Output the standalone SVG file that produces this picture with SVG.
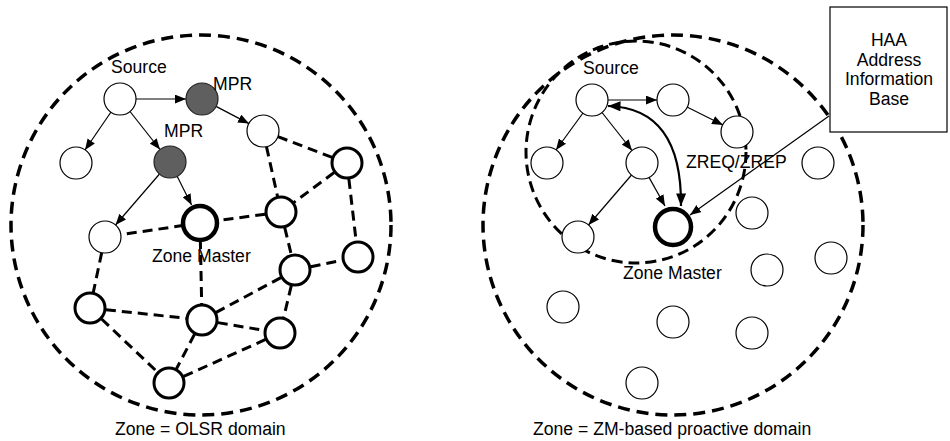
<svg xmlns="http://www.w3.org/2000/svg" width="950" height="441" viewBox="0 0 950 441">
  <style>
    .zone { fill: none; stroke: #000; stroke-width: 3.5; stroke-dasharray: 12 7; }
    .subzone { fill: none; stroke: #000; stroke-width: 3; stroke-dasharray: 11 6; }
    .link { stroke: #000; stroke-width: 3; stroke-dasharray: 10 6; fill: none; }
    .arrow { stroke: #000; stroke-width: 1.2; fill: none; marker-end: url(#head); }
    .node { fill: #fff; stroke: #000; stroke-width: 1.2; }
    .node.bold { stroke-width: 3; }
    .node.mpr { fill: #5f5f5f; stroke: #222; }
    .node.master { stroke-width: 4.5; }
    .label { font-family: "Liberation Sans", Arial, sans-serif; font-size: 17.6px; fill: #000; }
    .box { fill: #fff; stroke: #000; stroke-width: 1.2; }
  </style>
  <defs>
    <marker id="head" viewBox="0 0 10 8" refX="10" refY="4" markerWidth="11" markerHeight="9" markerUnits="userSpaceOnUse" orient="auto-start-reverse">
      <path d="M0 0 L10 4 L0 8 Z" fill="#000"/>
    </marker>
    <marker id="headBig" viewBox="0 0 10 8" refX="10" refY="4" markerWidth="13" markerHeight="10" markerUnits="userSpaceOnUse" orient="auto-start-reverse">
      <path d="M0 0 L10 4 L0 8 Z" fill="#000"/>
    </marker>
  </defs>

  <!-- zone boundaries -->
  <circle class="zone" cx="201" cy="225" r="190"/>
  <circle class="zone" cx="673" cy="225" r="190"/>
  <ellipse class="subzone" cx="636" cy="152" rx="110" ry="111"/>

  <!-- connectors -->
  <g id="connectors">
    <!-- OLSR links (left) -->
    <line class="link" x1="263" y1="131" x2="347" y2="163"/>
    <line class="link" x1="263" y1="131" x2="281" y2="212"/>
    <line class="link" x1="347" y1="163" x2="281" y2="212"/>
    <line class="link" x1="347" y1="163" x2="358" y2="257"/>
    <line class="link" x1="281" y1="212" x2="200" y2="223"/>
    <line class="link" x1="281" y1="212" x2="295" y2="270"/>
    <line class="link" x1="295" y1="270" x2="358" y2="257"/>
    <line class="link" x1="295" y1="270" x2="280" y2="333"/>
    <line class="link" x1="295" y1="270" x2="202" y2="320"/>
    <line class="link" x1="200" y1="223" x2="105" y2="237"/>
    <line class="link" x1="200" y1="223" x2="202" y2="320"/>
    <line class="link" x1="105" y1="237" x2="90" y2="308"/>
    <line class="link" x1="90" y1="308" x2="202" y2="320"/>
    <line class="link" x1="90" y1="308" x2="169" y2="383"/>
    <line class="link" x1="202" y1="320" x2="169" y2="383"/>
    <line class="link" x1="202" y1="320" x2="280" y2="333"/>
    <line class="link" x1="169" y1="383" x2="280" y2="333"/>

    <!-- MPR flooding (left) -->
    <line class="arrow" x1="136" y1="99" x2="186" y2="99"/>
    <line class="arrow" x1="111" y1="112" x2="85" y2="150"/>
    <line class="arrow" x1="130" y1="111.5" x2="160" y2="149.5"/>
    <line class="arrow" x1="216" y1="106.4" x2="249" y2="123.6"/>
    <line class="arrow" x1="159.5" y1="174" x2="115.5" y2="225"/>
    <line class="arrow" x1="177" y1="176" x2="191.6" y2="205"/>

    <!-- flooding inside the zone (right) -->
    <line class="arrow" x1="608" y1="100" x2="657" y2="100"/>
    <line class="arrow" x1="687" y1="107" x2="723" y2="125"/>
    <line class="arrow" x1="583" y1="113" x2="556" y2="150"/>
    <line class="arrow" x1="602" y1="112.5" x2="632" y2="150.5"/>
    <line class="arrow" x1="631.5" y1="175" x2="588.5" y2="225"/>
    <line class="arrow" x1="649" y1="177.4" x2="665" y2="206"/>

    <!-- ZREQ/ZREP exchange -->
    <path d="M608 106 Q682 108 681 206" fill="none" stroke="#000" stroke-width="2.2" marker-start="url(#headBig)" marker-end="url(#headBig)"/>

    <!-- callout from the address base -->
    <line class="arrow" x1="829" y1="116" x2="690" y2="215"/>
  </g>

  <!-- left: OLSR domain nodes -->
  <g id="l-source"><circle class="node" cx="120" cy="99" r="16"/></g>
  <g id="l-mpr1"><circle class="node mpr" cx="202" cy="99" r="16"/></g>
  <g id="l-n1"><circle class="node" cx="76" cy="163" r="16"/></g>
  <g id="l-mpr2"><circle class="node mpr" cx="170" cy="162" r="16"/></g>
  <g id="l-n2"><circle class="node" cx="263" cy="131" r="16"/></g>
  <g id="l-master"><circle class="node master" cx="200" cy="223" r="17"/></g>
  <g id="l-n3"><circle class="node" cx="105" cy="237" r="16"/></g>
  <g id="l-n4"><circle class="node bold" cx="347" cy="163" r="15"/></g>
  <g id="l-n5"><circle class="node bold" cx="281" cy="212" r="15"/></g>
  <g id="l-n6"><circle class="node bold" cx="358" cy="257" r="15"/></g>
  <g id="l-n7"><circle class="node bold" cx="295" cy="270" r="15"/></g>
  <g id="l-n8"><circle class="node bold" cx="90" cy="308" r="15"/></g>
  <g id="l-n9"><circle class="node bold" cx="202" cy="320" r="15"/></g>
  <g id="l-n10"><circle class="node bold" cx="280" cy="333" r="15"/></g>
  <g id="l-n11"><circle class="node bold" cx="169" cy="383" r="15"/></g>

  <!-- right: ZM-based proactive domain nodes -->
  <g id="r-source"><circle class="node" cx="592" cy="100" r="16"/></g>
  <g id="r-n1"><circle class="node" cx="673" cy="100" r="16"/></g>
  <g id="r-n2"><circle class="node" cx="737" cy="132" r="16"/></g>
  <g id="r-n3"><circle class="node" cx="547" cy="163" r="16"/></g>
  <g id="r-n4"><circle class="node" cx="642" cy="163" r="16"/></g>
  <g id="r-n5"><circle class="node" cx="578" cy="237" r="16"/></g>
  <g id="r-master"><circle class="node master" cx="673" cy="227" r="18"/></g>
  <g id="r-n6"><circle class="node" cx="818" cy="163" r="16"/></g>
  <g id="r-n7"><circle class="node" cx="752" cy="213" r="16"/></g>
  <g id="r-n8"><circle class="node" cx="767" cy="270" r="16"/></g>
  <g id="r-n9"><circle class="node" cx="831" cy="258" r="16"/></g>
  <g id="r-n10"><circle class="node" cx="563" cy="307" r="16"/></g>
  <g id="r-n11"><circle class="node" cx="673" cy="322" r="16"/></g>
  <g id="r-n12"><circle class="node" cx="752" cy="333" r="16"/></g>
  <g id="r-n13"><circle class="node" cx="642" cy="383" r="16"/></g>

  <!-- HAA address information base -->
  <g id="haa">
    <rect class="box" x="830" y="7" width="117" height="125"/>
    <text class="label" x="889" y="46" text-anchor="middle">HAA</text>
    <text class="label" x="889" y="66" text-anchor="middle">Address</text>
    <text class="label" x="889" y="85" text-anchor="middle">Information</text>
    <text class="label" x="889" y="105" text-anchor="middle">Base</text>
  </g>

  <!-- labels -->
  <g id="labels">
    <text class="label" x="111" y="73">Source</text>
    <text class="label" x="213" y="90">MPR</text>
    <text class="label" x="164" y="137">MPR</text>
    <text class="label" x="152" y="262">Zone Master</text>
    <text class="label" x="115" y="435">Zone = OLSR domain</text>
    <text class="label" x="583" y="74">Source</text>
    <text class="label" x="686" y="168">ZREQ/ZREP</text>
    <text class="label" x="623" y="279">Zone Master</text>
    <text class="label" x="533" y="435">Zone = ZM-based proactive domain</text>
  </g>
</svg>
